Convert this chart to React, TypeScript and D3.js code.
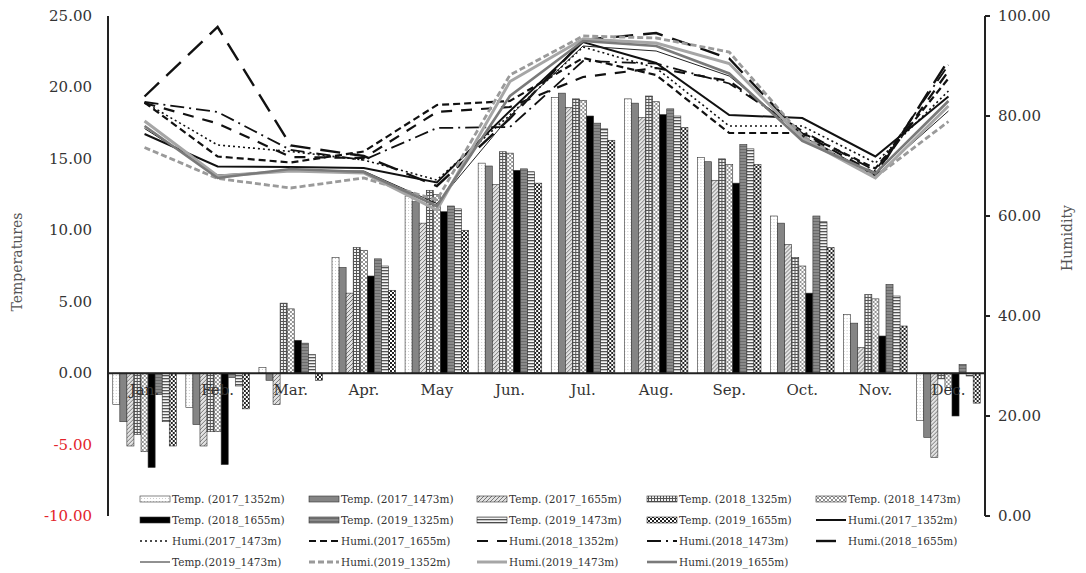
import React from "react";
import * as d3 from "d3";

const months = ["Jan.", "Feb.", "Mar.", "Apr.", "May", "Jun.", "Jul.", "Aug.", "Sep.", "Oct.", "Nov.", "Dec."];

// temperature bars (left axis)
const tempNames = [
  "Temp. (2017_1352m)", "Temp. (2017_1473m)", "Temp. (2017_1655m)",
  "Temp. (2018_1325m)", "Temp. (2018_1473m)", "Temp. (2018_1655m)",
  "Temp. (2019_1325m)", "Temp. (2019_1473m)", "Temp. (2019_1655m)",
];
const t2017_1352 = [-2.2, -2.4, 0.4, 8.1, 12.4, 14.7, 19.3, 19.2, 15.1, 11.0, 4.1, -3.3];
const t2017_1473 = [-3.4, -3.6, -0.5, 7.4, 12.0, 14.5, 19.6, 18.9, 14.8, 10.5, 3.5, -4.5];
const t2017_1655 = [-5.1, -5.1, -2.2, 5.6, 10.5, 13.2, 18.6, 17.9, 13.5, 9.0, 1.8, -5.9];
const t2018_1325 = [-4.3, -4.1, 4.9, 8.8, 12.8, 15.5, 19.2, 19.4, 15.0, 8.1, 5.5, -0.4];
const t2018_1473 = [-5.5, -4.1, 4.5, 8.6, 12.5, 15.4, 19.1, 19.0, 14.6, 7.5, 5.2, -1.0];
const t2018_1655 = [-6.6, -6.4, 2.3, 6.8, 11.3, 14.2, 18.0, 18.1, 13.3, 5.6, 2.6, -3.0];
const t2019_1325 = [-1.5, -0.3, 2.1, 8.0, 11.7, 14.3, 17.5, 18.5, 16.0, 11.0, 6.2, 0.6];
const t2019_1473 = [-3.4, -0.9, 1.3, 7.5, 11.5, 14.1, 17.1, 18.0, 15.7, 10.6, 5.4, -0.2];
const t2019_1655 = [-5.1, -2.5, -0.5, 5.8, 10.0, 13.3, 16.3, 17.2, 14.6, 8.8, 3.3, -2.1];
const tempValues = [t2017_1352, t2017_1473, t2017_1655, t2018_1325, t2018_1473, t2018_1655, t2019_1325, t2019_1473, t2019_1655];

// humidity lines (right axis)
const humiNames = [
  "Humi.(2017_1352m)", "Humi.(2017_1473m)", "Humi.(2017_1655m)",
  "Humi.(2018_1352m)", "Humi.(2018_1473m)", "Humi.(2018_1655m)",
  "Temp.(2019_1473m)", "Humi.(2019_1352m)", "Humi.(2019_1473m)", "Humi.(2019_1655m)",
];
const h2017_1352 = [76.4, 69.9, 69.8, 69.6, 66.7, 81.0, 94.8, 90.6, 80.2, 79.6, 71.9, 83.9];
const h2017_1473 = [82.7, 74.2, 72.9, 71.2, 67.2, 80.2, 93.8, 89.6, 78.0, 78.0, 70.6, 85.0];
const h2017_1655 = [82.7, 71.9, 70.7, 72.9, 82.2, 83.0, 91.6, 88.2, 76.6, 76.6, 69.5, 87.5];
const h2018_1352 = [82.6, 78.5, 71.8, 71.6, 80.8, 81.8, 87.8, 89.6, 87.0, 76.5, 68.5, 89.0];
const h2018_1473 = [82.8, 80.8, 73.2, 71.2, 77.6, 77.8, 91.0, 90.5, 86.5, 77.0, 69.0, 90.2];
const h2018_1655 = [83.9, 97.8, 74.1, 72.0, 66.0, 79.5, 95.2, 96.6, 91.5, 76.0, 68.0, 91.2];
const h2019_1473t = [77.5, 68.2, 69.0, 69.0, 62.5, 80.0, 94.0, 93.0, 88.0, 76.0, 68.0, 81.0];
const h2019_1352 = [73.7, 67.5, 65.6, 67.6, 63.2, 88.2, 96.0, 95.6, 92.8, 76.0, 67.8, 78.9];
const h2019_1473 = [79.0, 68.0, 69.0, 68.6, 61.2, 86.9, 95.4, 94.6, 90.5, 75.5, 67.6, 82.0];
const h2019_1655 = [78.0, 67.6, 69.4, 68.8, 62.0, 84.0, 95.0, 94.0, 88.5, 75.0, 68.5, 83.0];
const humiValues = [h2017_1352, h2017_1473, h2017_1655, h2018_1352, h2018_1473, h2018_1655, h2019_1473t, h2019_1352, h2019_1473, h2019_1655];

const tempTicks = [25, 20, 15, 10, 5, 0, -5, -10];
const humiTicks = [100, 80, 60, 40, 20, 0];

const barFills = ["url(#p0)", "#858585", "url(#p2)", "url(#p3)", "url(#p4)", "#000", "url(#p6)", "url(#p7)", "url(#p8)"];
const lineStyles = [
  { color: "#111", width: 2, dash: "" },
  { color: "#111", width: 1.6, dash: "2,3" },
  { color: "#111", width: 2.2, dash: "7,4" },
  { color: "#111", width: 2.2, dash: "11,9" },
  { color: "#111", width: 1.8, dash: "14,5,2,5" },
  { color: "#111", width: 2.4, dash: "20,10" },
  { color: "#222", width: 1, dash: "" },
  { color: "#9a9a9a", width: 2.8, dash: "6,3" },
  { color: "#a6a6a6", width: 3, dash: "" },
  { color: "#7a7a7a", width: 2.6, dash: "" },
];

const font = "'DejaVu Serif', 'Liberation Serif', serif";

export default function App() {
  const left = 108, right = 985, top = 16, bottom = 516;
  const yT = d3.scaleLinear().domain([-10, 25]).range([bottom, top]);
  const yH = d3.scaleLinear().domain([0, 100]).range([bottom, top]);
  const x0 = d3.scaleBand().domain(months).range([left, right]).paddingInner(0.13).paddingOuter(0.065);
  const x1 = d3.scaleBand().domain(tempNames).range([0, x0.bandwidth()]);
  const line = d3.line<number>()
    .x((_, i) => (x0(months[i]) as number) + x0.bandwidth() / 2)
    .y((d) => yH(d));

  const legendCols = [140, 309, 477, 647, 816];
  const legendRows = [499, 520, 541, 562];
  const legendItems = [
    ...tempNames.map((n, i) => ({ name: n, kind: "bar", i })),
    ...humiNames.map((n, i) => ({ name: n, kind: "line", i })),
  ];

  return (
    <div style={{ position: "absolute", left: 0, top: 0 }}>
      <svg width={1086} height={573} style={{ background: "#fff", display: "block" }}>
        <defs>
          <pattern id="p0" width="3" height="3" patternUnits="userSpaceOnUse">
            <rect width="3" height="3" fill="#fff" />
            <rect x="0" y="0" width="1" height="1" fill="#ccc" />
          </pattern>
          <pattern id="p2" width="4" height="4" patternUnits="userSpaceOnUse">
            <rect width="4" height="4" fill="#e2e2e2" />
            <path d="M0,4 L4,0 M-1,1 L1,-1 M3,5 L5,3" stroke="#777" strokeWidth="1" />
          </pattern>
          <pattern id="p3" width="3" height="3" patternUnits="userSpaceOnUse">
            <rect width="3" height="3" fill="#f2f2f2" />
            <path d="M0,0.5 H3 M0.5,0 V3" stroke="#555" strokeWidth="1" />
          </pattern>
          <pattern id="p4" width="4" height="4" patternUnits="userSpaceOnUse">
            <rect width="4" height="4" fill="#fff" />
            <path d="M0,0 L4,4 M0,4 L4,0" stroke="#888" strokeWidth="0.9" />
          </pattern>
          <pattern id="p6" width="3" height="3" patternUnits="userSpaceOnUse">
            <rect width="3" height="3" fill="#8a8a8a" />
            <rect y="2" width="3" height="1" fill="#6a6a6a" />
          </pattern>
          <pattern id="p7" width="3" height="3" patternUnits="userSpaceOnUse">
            <rect width="3" height="3" fill="#f4f4f4" />
            <rect y="0" width="3" height="1.3" fill="#555" />
          </pattern>
          <pattern id="p8" width="4" height="4" patternUnits="userSpaceOnUse">
            <rect width="4" height="4" fill="#fff" />
            <rect x="0" y="0" width="2" height="2" fill="#222" />
            <rect x="2" y="2" width="2" height="2" fill="#222" />
          </pattern>
        </defs>

        {/* bars */}
        {months.map((m, mi) => (
          <g key={m} transform={`translate(${x0(m)},0)`}>
            {tempValues.map((vals, si) => {
              const v = vals[mi];
              const y = Math.min(yT(v), yT(0));
              const h = Math.abs(yT(v) - yT(0));
              return (
                <rect
                  key={si}
                  x={x1(tempNames[si])}
                  y={y}
                  width={x1.bandwidth()}
                  height={h}
                  fill={barFills[si]}
                  stroke="#333"
                  strokeWidth={0.6}
                />
              );
            })}
          </g>
        ))}

        {/* month labels */}
        {months.map((m) => (
          <text key={m} x={(x0(m) as number) + x0.bandwidth() / 2} y={395} textAnchor="middle"
            fontFamily={font} fontSize={15} fill="#333">{m}</text>
        ))}

        {/* humidity lines */}
        {humiValues.map((vals, i) => (
          <path key={i} d={line(vals) || ""} fill="none" stroke={lineStyles[i].color}
            strokeWidth={lineStyles[i].width} strokeDasharray={lineStyles[i].dash} />
        ))}

        {/* axes */}
        <line x1={left} x2={left} y1={top} y2={bottom} stroke="#222" strokeWidth={2} />
        <line x1={right} x2={right} y1={top} y2={bottom} stroke="#222" strokeWidth={2} />
        <line x1={left} x2={right} y1={yT(0)} y2={yT(0)} stroke="#222" strokeWidth={2} />
        {tempTicks.map((t) => (
          <text key={t} x={92} y={yT(t) + 5} textAnchor="end" fontFamily={font} fontSize={15}
            fill={t < 0 ? "#e3242b" : "#333"}>{t.toFixed(2)}</text>
        ))}
        {humiTicks.map((t) => (
          <g key={t}>
            <line x1={right} x2={right + 5} y1={yH(t)} y2={yH(t)} stroke="#222" strokeWidth={2} />
            <text x={998} y={yH(t) + 5} fontFamily={font} fontSize={15} fill="#333">{t.toFixed(2)}</text>
          </g>
        ))}
        <text transform={`translate(22,262) rotate(-90)`} textAnchor="middle" fontFamily={font}
          fontSize={14} fill="#555">Temperatures</text>
        <text transform={`translate(1072,238) rotate(-90)`} textAnchor="middle" fontFamily={font}
          fontSize={14} fill="#555">Humidity</text>

        {/* legend */}
        {legendItems.map((it, k) => {
          const cx = legendCols[k % 5];
          const cy = legendRows[Math.floor(k / 5)];
          return (
            <g key={k}>
              {it.kind === "bar" ? (
                <rect x={cx} y={cy - 3} width={30} height={6} fill={barFills[it.i]} stroke="#333" strokeWidth={0.6} />
              ) : (
                <line x1={cx} x2={cx + 30} y1={cy} y2={cy} stroke={lineStyles[it.i].color}
                  strokeWidth={lineStyles[it.i].width} strokeDasharray={lineStyles[it.i].dash} />
              )}
              <text x={cx + 32} y={cy + 4} fontFamily={font} fontSize={10.5} fill="#333">{it.name}</text>
            </g>
          );
        })}
      </svg>
    </div>
  );
}
